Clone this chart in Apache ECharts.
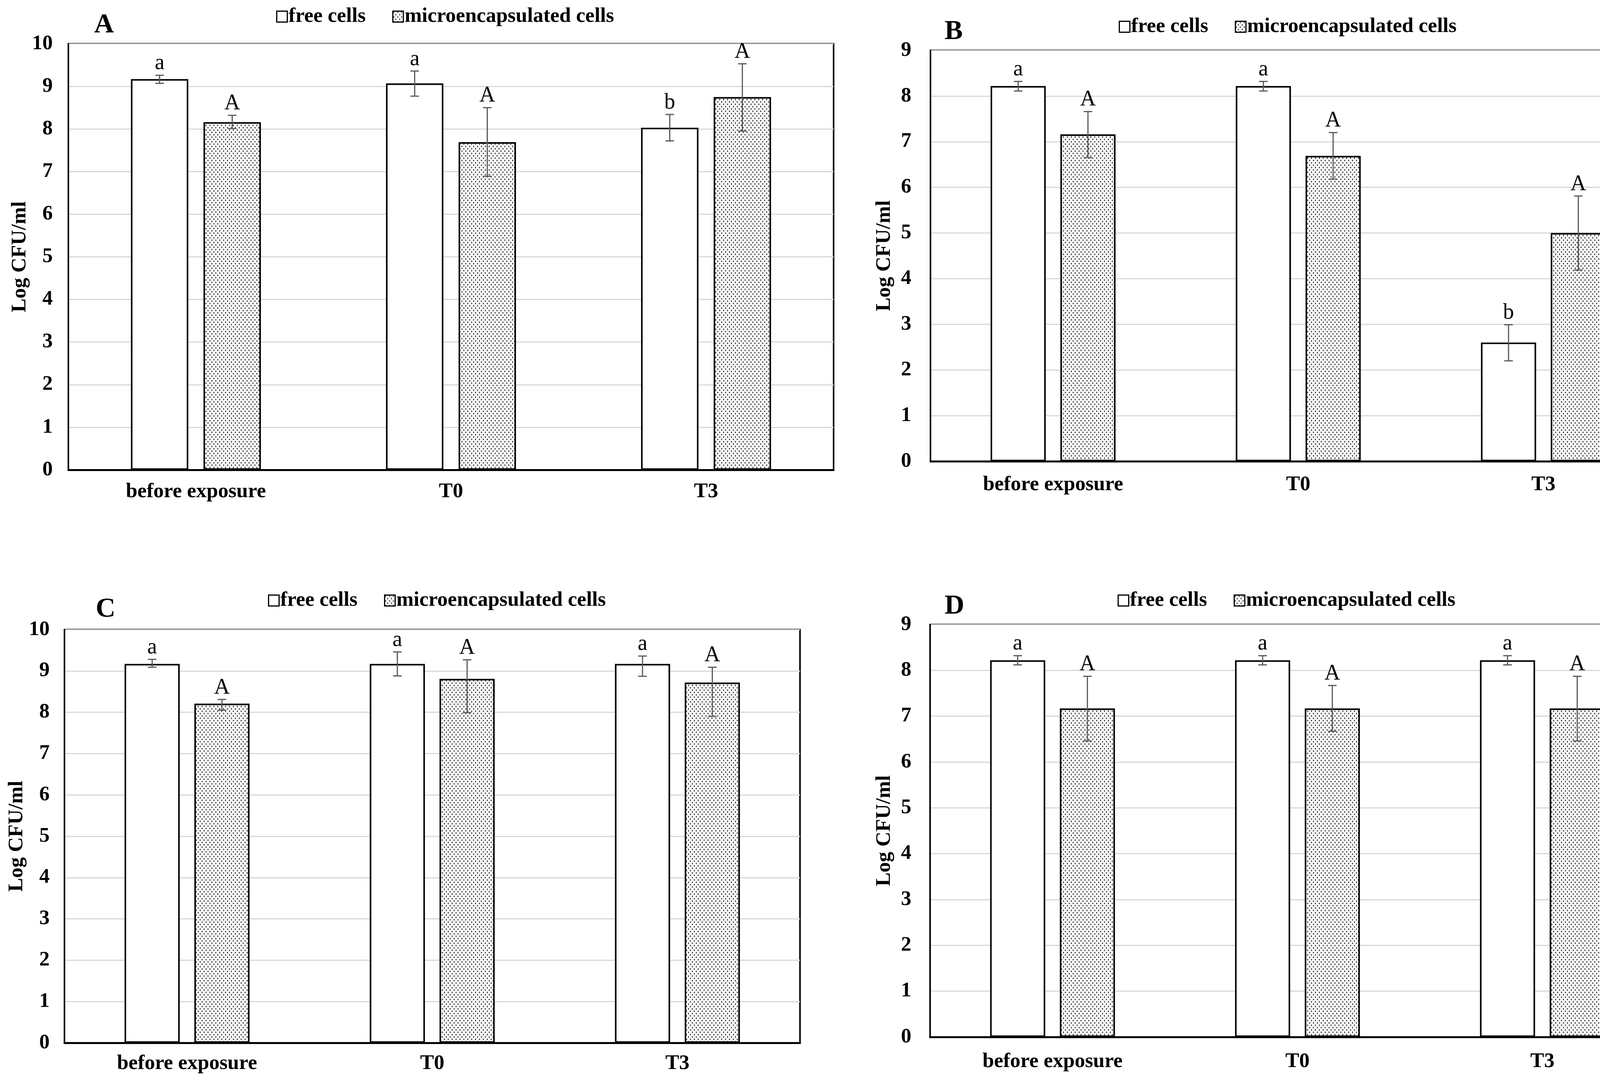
<!DOCTYPE html>
<html><head><meta charset="utf-8">
<script src="https://cdn.jsdelivr.net/npm/echarts@6/dist/echarts.min.js"></script>
<style>html,body{margin:0;padding:0;background:#fff}#c{width:4284px;height:2760px}</style>
</head><body><div id="c"></div>
<script>
// ---------- data ----------
var categories = ['before exposure', 'T0', 'T3'];
var legendNames = ['free cells', 'microencapsulated cells'];
var panelLetters = ['A', 'B', 'C', 'D'];
var yMaxes = [10, 9, 10, 9];
var yAxisTitle = 'Log CFU/ml';

// Panel A
var freeA = [9.17, 9.07, 8.03];
var freeA_hi = [9.26, 9.36, 8.34];
var freeA_lo = [9.07, 8.77, 7.72];
var microA = [8.16, 7.69, 8.75];
var microA_hi = [8.32, 8.50, 9.53];
var microA_lo = [8.01, 6.89, 7.95];
var freeA_sig = ['a', 'a', 'b'];
var microA_sig = ['A', 'A', 'A'];

// Panel B
var freeB = [8.22, 8.22, 2.60];
var freeB_hi = [8.32, 8.32, 2.99];
var freeB_lo = [8.11, 8.11, 2.20];
var microB = [7.16, 6.69, 5.00];
var microB_hi = [7.66, 7.20, 5.81];
var microB_lo = [6.65, 6.18, 4.19];
var freeB_sig = ['a', 'a', 'b'];
var microB_sig = ['A', 'A', 'A'];

// Panel C
var freeC = [9.17, 9.17, 9.17];
var freeC_hi = [9.28, 9.46, 9.36];
var freeC_lo = [9.09, 8.88, 8.87];
var microC = [8.21, 8.81, 8.72];
var microC_hi = [8.31, 9.27, 9.09];
var microC_lo = [8.05, 7.99, 7.90];
var freeC_sig = ['a', 'a', 'a'];
var microC_sig = ['A', 'A', 'A'];

// Panel D
var freeD = [8.22, 8.22, 8.22];
var freeD_hi = [8.32, 8.32, 8.32];
var freeD_lo = [8.12, 8.12, 8.12];
var microD = [7.17, 7.17, 7.17];
var microD_hi = [7.87, 7.67, 7.87];
var microD_lo = [6.46, 6.67, 6.46];
var freeD_sig = ['a', 'a', 'a'];
var microD_sig = ['A', 'A', 'A'];

var panels = [
  {free: freeA, fHi: freeA_hi, fLo: freeA_lo, micro: microA, mHi: microA_hi, mLo: microA_lo, fSig: freeA_sig, mSig: microA_sig},
  {free: freeB, fHi: freeB_hi, fLo: freeB_lo, micro: microB, mHi: microB_hi, mLo: microB_lo, fSig: freeB_sig, mSig: microB_sig},
  {free: freeC, fHi: freeC_hi, fLo: freeC_lo, micro: microC, mHi: microC_hi, mLo: microC_lo, fSig: freeC_sig, mSig: microC_sig},
  {free: freeD, fHi: freeD_hi, fLo: freeD_lo, micro: microD, mHi: microD_hi, mLo: microD_lo, fSig: freeD_sig, mSig: microD_sig}
];

// ---------- layout ----------
var FONT = '"Liberation Serif", "Times New Roman", serif';
var layouts = [
  {grid: {left: 175, top: 112, width: 1959, height: 1091}, yLabelMargin: 40, nameGap: 95, xLabelMargin: 30,
   legend: {left: 707, top: 16}, title: {left: 241, top: 30}},
  {grid: {left: 2382, top: 129, width: 1883, height: 1052}, yLabelMargin: 49, nameGap: 91, xLabelMargin: 34,
   legend: {left: 2864, top: 42}, title: {left: 2418, top: 47}},
  {grid: {left: 165, top: 1612, width: 1883, height: 1058}, yLabelMargin: 38, nameGap: 86, xLabelMargin: 27,
   legend: {left: 686, top: 1511}, title: {left: 245, top: 1526}},
  {grid: {left: 2381, top: 1599, width: 1881, height: 1056}, yLabelMargin: 48, nameGap: 90, xLabelMargin: 37,
   legend: {left: 2861, top: 1511}, title: {left: 2418, top: 1518}}
];

var BAR_W = 0.225, BAR_GAP = 0.265;
var OFFSET = (BAR_W + BAR_W * BAR_GAP) / 2;

// dotted pattern
var pat = document.createElement('canvas');
pat.width = 10; pat.height = 12;
var g = pat.getContext('2d');
g.fillStyle = '#ffffff'; g.fillRect(0, 0, 10, 12);
g.fillStyle = '#555555';
g.fillRect(1, 1, 3, 4);
g.fillRect(6, 7, 3, 4);

function errRender(sign, sigs) {
  return function (params, api) {
    var i = api.value(0);
    var pLo = api.coord([i, api.value(1)]);
    var pHi = api.coord([i, api.value(2)]);
    var band = api.size([1, 0])[0];
    var x = pLo[0] + sign * band * OFFSET;
    var cap = 11;
    var ls = {stroke: '#595959', lineWidth: 3};
    return {
      type: 'group',
      children: [
        {type: 'line', shape: {x1: x, y1: pHi[1], x2: x, y2: pLo[1]}, style: ls},
        {type: 'line', shape: {x1: x - cap, y1: pHi[1], x2: x + cap, y2: pHi[1]}, style: ls},
        {type: 'line', shape: {x1: x - cap, y1: pLo[1], x2: x + cap, y2: pLo[1]}, style: ls},
        {type: 'text', x: x, y: pHi[1] - 2,
         style: {text: sigs[params.dataIndex], fontSize: 56, fontFamily: FONT, fill: '#000',
                 align: 'center', verticalAlign: 'bottom'}}
      ]
    };
  };
}

var grids = [], xAxes = [], yAxes = [], series = [], legends = [], titles = [];
panels.forEach(function (p, k) {
  var L = layouts[k];
  grids.push(Object.assign({show: true, borderColor: '#000', borderWidth: 4, backgroundColor: 'transparent'}, L.grid));
  xAxes.push({
    type: 'category', gridIndex: k, data: categories,
    axisTick: {show: false},
    axisLine: {show: true, lineStyle: {color: '#000', width: 5}},
    axisLabel: {margin: L.xLabelMargin, fontSize: 53, fontWeight: 'bold', fontFamily: FONT, color: '#000'}
  });
  yAxes.push({
    type: 'value', gridIndex: k, min: 0, max: yMaxes[k], interval: 1,
    axisLine: {show: true, lineStyle: {color: '#000', width: 4}},
    axisTick: {show: false},
    axisLabel: {margin: L.yLabelMargin, fontSize: 53, fontWeight: 'bold', fontFamily: FONT, color: '#000'},
    splitLine: {show: true, lineStyle: {color: '#d9d9d9', width: 3}},
    name: yAxisTitle, nameLocation: 'middle', nameGap: L.nameGap,
    nameTextStyle: {fontSize: 53, fontWeight: 'bold', fontFamily: FONT, color: '#000'}
  });
  series.push({
    type: 'bar', name: legendNames[0], xAxisIndex: k, yAxisIndex: k, data: p.free,
    barWidth: (BAR_W * 100) + '%', barGap: (BAR_GAP * 100) + '%',
    itemStyle: {color: '#ffffff', borderColor: '#000', borderWidth: 4},
    emphasis: {disabled: true}
  });
  series.push({
    type: 'bar', name: legendNames[1], xAxisIndex: k, yAxisIndex: k, data: p.micro,
    barWidth: (BAR_W * 100) + '%', barGap: (BAR_GAP * 100) + '%',
    itemStyle: {color: {image: pat, repeat: 'repeat'}, borderColor: '#000', borderWidth: 4},
    emphasis: {disabled: true}
  });
  series.push({
    type: 'custom', name: 'err-free-' + k, xAxisIndex: k, yAxisIndex: k, z: 5, silent: true,
    encode: {x: 0, y: [1, 2]},
    data: categories.map(function (c, i) { return [i, p.fLo[i], p.fHi[i]]; }),
    renderItem: errRender(-1, p.fSig)
  });
  series.push({
    type: 'custom', name: 'err-micro-' + k, xAxisIndex: k, yAxisIndex: k, z: 5, silent: true,
    encode: {x: 0, y: [1, 2]},
    data: categories.map(function (c, i) { return [i, p.mLo[i], p.mHi[i]]; }),
    renderItem: errRender(1, p.mSig)
  });
  legends.push({
    data: legendNames, left: L.legend.left, top: L.legend.top, padding: 0,
    icon: 'rect', itemWidth: 27, itemHeight: 28, itemGap: 68, selectedMode: false,
    itemStyle: {borderWidth: 3, borderColor: '#000'},
    textStyle: {fontSize: 53, fontWeight: 'bold', fontFamily: FONT, color: '#000', padding: [0, 0, 0, -2]}
  });
  titles.push({
    text: panelLetters[k], left: L.title.left, top: L.title.top, padding: 0,
    textStyle: {fontSize: 70, fontWeight: 'bold', fontFamily: FONT, color: '#000'}
  });
});

var chart = echarts.init(document.getElementById('c'), null, {renderer: 'canvas'});
chart.setOption({
  backgroundColor: '#ffffff',
  animation: false,
  title: titles,
  legend: legends,
  grid: grids,
  xAxis: xAxes,
  yAxis: yAxes,
  series: series
});
</script>
</body></html>
